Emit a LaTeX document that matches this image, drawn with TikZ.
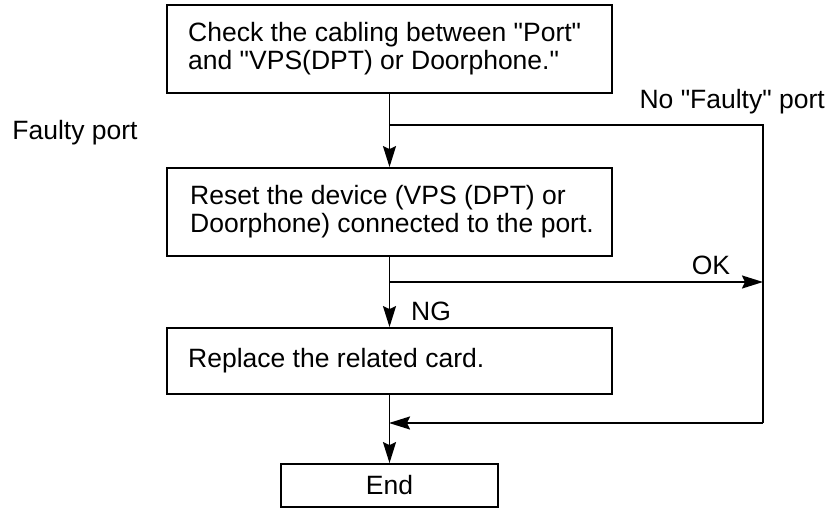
\documentclass[tikz,border=0pt]{standalone}
\usepackage{fontspec}
\setmainfont{Liberation Sans}[Ligatures=TeXOff]
\usetikzlibrary{arrows.meta}
\begin{document}
\begin{tikzpicture}[x=1pt,y=-1pt,
  box/.style={draw, line width=1.8pt, minimum width=445pt, inner sep=0pt},
  lbl/.style={font=\fontsize{26.5}{28}\selectfont, inner sep=0pt},
  conn/.style={line width=1.8pt},
  arr/.style={conn, -{Stealth[length=21pt,width=13pt,inset=3pt]}}]
\useasboundingbox (0,0) rectangle (833,508);
\node[box, minimum height=88pt] (b1) at (389.5,49) {};
\node[lbl, anchor=west, align=left] (t1) at (188,49) {Check the cabling between "Port"\\and "VPS(DPT) or Doorphone."};
\node[box, minimum height=88pt] (b2) at (389.5,212) {};
\node[lbl, anchor=west, align=left] (t2) at (190,212) {Reset the device (VPS (DPT) or\\Doorphone) connected to the port.};
\node[box, minimum height=66pt] (b3) at (389.5,361) {};
\node[lbl, anchor=west] (t3) at (188,361) {Replace the related card.};
\node[box, minimum width=217pt, minimum height=43pt] (end) at (389.5,485.5) {};
\node[lbl] (t4) at (389.5,485.5) {End};
\coordinate (s1) at (389,125);
\coordinate (r1) at (763,125);
\coordinate (s2) at (389,282);
\coordinate (r2) at (763,282);
\coordinate (r3) at (763,423);
\coordinate (s3) at (389,423);
\draw[arr] (b1.south) -- (b2.north);
\draw[conn] (s1) -- (r1) -- (r3);
\draw[arr] (r3) -- (s3);
\draw[arr] (s2) -- (r2);
\draw[arr] (b2.south) -- (b3.north);
\draw[arr] (b3.south) -- (end.north);
\node[lbl, anchor=east] (nf) at (825,102) {No "Faulty" port};
\node[lbl] (fp) at (75,133) {Faulty port};
\node[lbl] (ok) at (711,265) {OK};
\node[lbl] (ng) at (431,311) {NG};
\end{tikzpicture}
\end{document}
